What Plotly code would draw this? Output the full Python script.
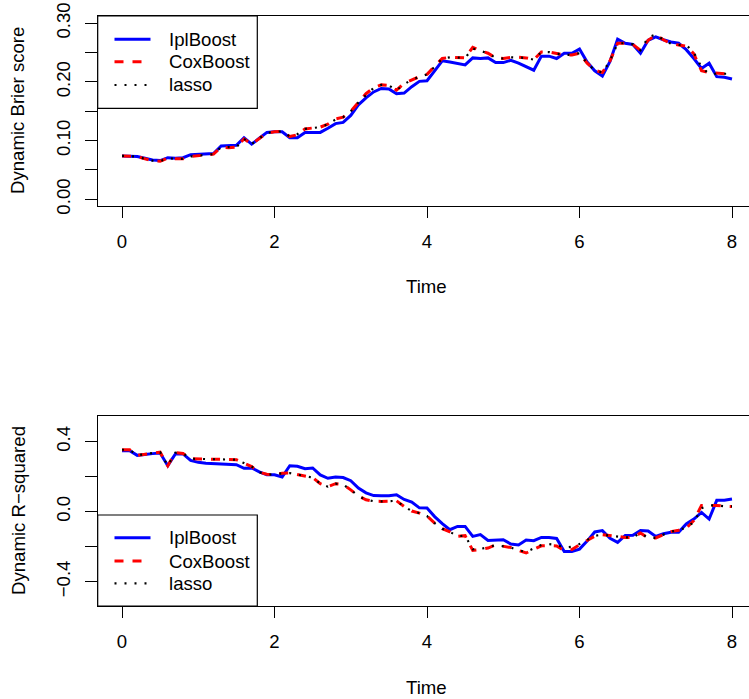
import plotly.graph_objects as go

# ---------------- data ----------------
time = [round(i * 0.1, 1) for i in range(81)]

brier_iplboost = [
    0.074, 0.074, 0.073, 0.070, 0.067, 0.066, 0.071, 0.070, 0.071, 0.076,
    0.077, 0.077, 0.078, 0.091, 0.092, 0.092, 0.105, 0.094, 0.104, 0.114,
    0.115, 0.115, 0.105, 0.105, 0.114, 0.114, 0.114, 0.121, 0.129, 0.131,
    0.143, 0.161, 0.173, 0.183, 0.189, 0.188, 0.180, 0.181, 0.192, 0.201,
    0.202, 0.219, 0.236, 0.234, 0.231, 0.229, 0.241, 0.240, 0.241, 0.233,
    0.233, 0.237, 0.232, 0.226, 0.220, 0.244, 0.244, 0.240, 0.249, 0.249,
    0.256, 0.234, 0.219, 0.210, 0.235, 0.273, 0.266, 0.264, 0.249, 0.271,
    0.277, 0.272, 0.268, 0.266, 0.255, 0.240, 0.223, 0.232, 0.209, 0.208,
    0.205]

brier_coxboost = [
    0.074, 0.074, 0.073, 0.069, 0.066, 0.065, 0.070, 0.069, 0.069, 0.073,
    0.074, 0.075, 0.077, 0.089, 0.088, 0.089, 0.103, 0.094, 0.104, 0.113,
    0.115, 0.116, 0.107, 0.110, 0.120, 0.122, 0.123, 0.128, 0.137, 0.140,
    0.150, 0.165, 0.180, 0.190, 0.195, 0.194, 0.186, 0.198, 0.204, 0.209,
    0.213, 0.226, 0.240, 0.242, 0.242, 0.241, 0.259, 0.253, 0.249, 0.241,
    0.240, 0.242, 0.242, 0.241, 0.238, 0.251, 0.251, 0.249, 0.246, 0.246,
    0.249, 0.232, 0.220, 0.216, 0.236, 0.266, 0.266, 0.264, 0.254, 0.271,
    0.280, 0.272, 0.265, 0.263, 0.261, 0.248, 0.219, 0.216, 0.215, 0.214,
    0.213]

brier_lasso = [
    0.074, 0.074, 0.073, 0.069, 0.066, 0.065, 0.070, 0.069, 0.069, 0.073,
    0.074, 0.075, 0.077, 0.089, 0.089, 0.089, 0.103, 0.094, 0.104, 0.113,
    0.115, 0.116, 0.107, 0.111, 0.120, 0.122, 0.123, 0.128, 0.136, 0.140,
    0.150, 0.165, 0.178, 0.190, 0.195, 0.194, 0.186, 0.196, 0.204, 0.209,
    0.213, 0.226, 0.240, 0.242, 0.242, 0.241, 0.257, 0.253, 0.249, 0.241,
    0.240, 0.242, 0.242, 0.241, 0.238, 0.251, 0.251, 0.249, 0.246, 0.246,
    0.249, 0.232, 0.220, 0.216, 0.236, 0.266, 0.266, 0.264, 0.254, 0.276,
    0.281, 0.272, 0.265, 0.263, 0.263, 0.250, 0.225, 0.214, 0.214, 0.214,
    0.214]

r2_iplboost = [
    0.349, 0.349, 0.322, 0.328, 0.332, 0.335, 0.263, 0.330, 0.330, 0.293,
    0.282, 0.277, 0.274, 0.272, 0.270, 0.269, 0.248, 0.250, 0.228, 0.211,
    0.211, 0.198, 0.263, 0.260, 0.246, 0.250, 0.210, 0.191, 0.198, 0.195,
    0.177, 0.135, 0.108, 0.092, 0.091, 0.091, 0.097, 0.070, 0.055, 0.022,
    0.021, -0.028, -0.068, -0.103, -0.084, -0.084, -0.141, -0.131, -0.164, -0.162,
    -0.160, -0.185, -0.190, -0.162, -0.166, -0.147, -0.147, -0.153, -0.227, -0.227,
    -0.214, -0.168, -0.116, -0.108, -0.152, -0.175, -0.136, -0.135, -0.107, -0.110,
    -0.141, -0.126, -0.118, -0.118, -0.070, -0.042, -0.004, -0.042, 0.065, 0.065,
    0.072]

r2_coxboost = [
    0.354, 0.354, 0.322, 0.330, 0.335, 0.340, 0.263, 0.337, 0.333, 0.303,
    0.303, 0.302, 0.300, 0.299, 0.298, 0.297, 0.278, 0.258, 0.225, 0.214,
    0.211, 0.220, 0.221, 0.212, 0.200, 0.195, 0.160, 0.143, 0.160, 0.155,
    0.125, 0.090, 0.068, 0.060, 0.059, 0.059, 0.062, 0.030, 0.004, -0.008,
    -0.025, -0.065, -0.097, -0.115, -0.140, -0.137, -0.221, -0.216, -0.208, -0.190,
    -0.198, -0.205, -0.222, -0.236, -0.215, -0.195, -0.194, -0.196, -0.222, -0.216,
    -0.189, -0.165, -0.140, -0.131, -0.136, -0.142, -0.147, -0.147, -0.122, -0.150,
    -0.150, -0.131, -0.114, -0.106, -0.095, -0.050, 0.036, 0.036, 0.036, 0.031,
    0.030]

r2_lasso = [
    0.354, 0.354, 0.322, 0.330, 0.335, 0.340, 0.263, 0.337, 0.333, 0.303,
    0.303, 0.302, 0.300, 0.299, 0.298, 0.297, 0.278, 0.258, 0.225, 0.214,
    0.211, 0.220, 0.221, 0.212, 0.200, 0.195, 0.160, 0.143, 0.160, 0.155,
    0.125, 0.090, 0.068, 0.060, 0.059, 0.059, 0.062, 0.030, 0.004, -0.008,
    -0.025, -0.065, -0.097, -0.115, -0.140, -0.137, -0.215, -0.212, -0.205, -0.190,
    -0.198, -0.205, -0.220, -0.230, -0.210, -0.190, -0.185, -0.190, -0.205, -0.200,
    -0.185, -0.160, -0.138, -0.131, -0.136, -0.142, -0.147, -0.147, -0.122, -0.150,
    -0.150, -0.131, -0.114, -0.106, -0.090, -0.060, 0.020, 0.036, 0.036, 0.031,
    0.030]

series_names = ["IplBoost", "CoxBoost", "lasso"]
x_ticks = [0, 2, 4, 6, 8]
top_yticks = [0.00, 0.05, 0.10, 0.15, 0.20, 0.25, 0.30]
top_yticktext = ["0.00", "", "0.10", "", "0.20", "", "0.30"]
bot_yticks = [-0.4, -0.2, 0.0, 0.2, 0.4]
bot_yticktext = ["\u22120.4", "", "0.0", "", "0.4"]

# ---------------- styling ----------------
W, H = 749, 699
FONT = "Liberation Sans, Arial, Helvetica, sans-serif"
FS = 18.6
styles = [
    dict(color="#0000FF", width=3, dash="solid"),
    dict(color="#FF0000", width=3, dash="9px,9px"),
    dict(color="#000000", width=2.2, dash="2px,8px"),
]

def px(x):
    return x / W

def py(y):
    return 1 - y / H

fig = go.Figure()

top_series = [brier_iplboost, brier_coxboost, brier_lasso]
bot_series = [r2_iplboost, r2_coxboost, r2_lasso]
for name, ys, st in zip(series_names, top_series, styles):
    fig.add_trace(go.Scatter(x=time, y=ys, mode="lines", name=name,
                             line=st, xaxis="x", yaxis="y", showlegend=False))
for name, ys, st in zip(series_names, bot_series, styles):
    fig.add_trace(go.Scatter(x=time, y=ys, mode="lines", name=name,
                             line=st, xaxis="x2", yaxis="y2", showlegend=False))

xr = [-0.319, 8.223]
xdom = [px(97.7), 1.0]
common_x = dict(range=xr, domain=xdom, tickvals=x_ticks,
                ticktext=[str(v) for v in x_ticks], automargin=False,
                showgrid=False, zeroline=False, showline=True, mirror=True,
                linecolor="black", linewidth=1.2, ticks="outside", ticklen=11,
                tickwidth=1.2, tickcolor="black", ticklabelstandoff=8,
                tickfont=dict(family=FONT, size=FS, color="black"))
common_y = dict(showgrid=False, zeroline=False, showline=True, mirror=False,
                automargin=False,
                linecolor="black", linewidth=1.2, ticks="outside", ticklen=11.5,
                tickwidth=1.2, tickcolor="black", tickangle=-90,
                ticklabelstandoff=8,
                tickfont=dict(family=FONT, size=FS, color="black"))

fig.update_layout(
    width=W, height=H,
    margin=dict(l=0, r=0, t=0, b=0, pad=0),
    paper_bgcolor="white", plot_bgcolor="white",
    showlegend=False,
    xaxis=dict(anchor="y", **common_x),
    yaxis=dict(anchor="x", domain=[py(206), py(16)], range=[-0.0114, 0.3124],
               tickvals=top_yticks, ticktext=top_yticktext, **common_y),
    xaxis2=dict(anchor="y2", **common_x),
    yaxis2=dict(anchor="x2", domain=[py(606), py(416)], range=[-0.539, 0.547],
                tickvals=bot_yticks, ticktext=bot_yticktext, **common_y),
)

shapes = []
annotations = []

# axis titles
for ytitle, ycenter, xcenter_time in [("Dynamic Brier score", 111, 286),
                                       ("Dynamic R\u2212squared", 511, 687.5)]:
    annotations.append(dict(text=ytitle, x=px(18), y=py(ycenter), xref="paper",
                            yref="paper", textangle=-90, showarrow=False,
                            xanchor="center", yanchor="middle",
                            font=dict(family=FONT, size=FS, color="black")))
    annotations.append(dict(text="Time", x=px(426.8), y=py(xcenter_time),
                            xref="paper", yref="paper", showarrow=False,
                            xanchor="center", yanchor="middle",
                            font=dict(family=FONT, size=FS, color="black")))

# legends (drawn boxes)
for box_top, box_bot, rows in [(16, 108.3, [39.3, 61.7, 85.0]),
                               (515, 606, [537.7, 561.0, 583.3])]:
    shapes.append(dict(type="rect", xref="paper", yref="paper",
                       x0=px(97.7), x1=px(257.3), y0=py(box_bot), y1=py(box_top),
                       line=dict(color="black", width=1.2), fillcolor="white",
                       layer="above"))
    for name, st, ry in zip(series_names, styles, rows):
        shapes.append(dict(type="line", xref="paper", yref="paper",
                           x0=px(114.5), x1=px(150.5), y0=py(ry), y1=py(ry),
                           line=st, layer="above"))
        annotations.append(dict(text=name, x=px(167), y=py(ry), xref="paper",
                                yref="paper", showarrow=False, xanchor="left",
                                yanchor="middle",
                                font=dict(family=FONT, size=FS, color="black")))

fig.update_layout(shapes=shapes, annotations=annotations)
fig.write_html("out.html")
